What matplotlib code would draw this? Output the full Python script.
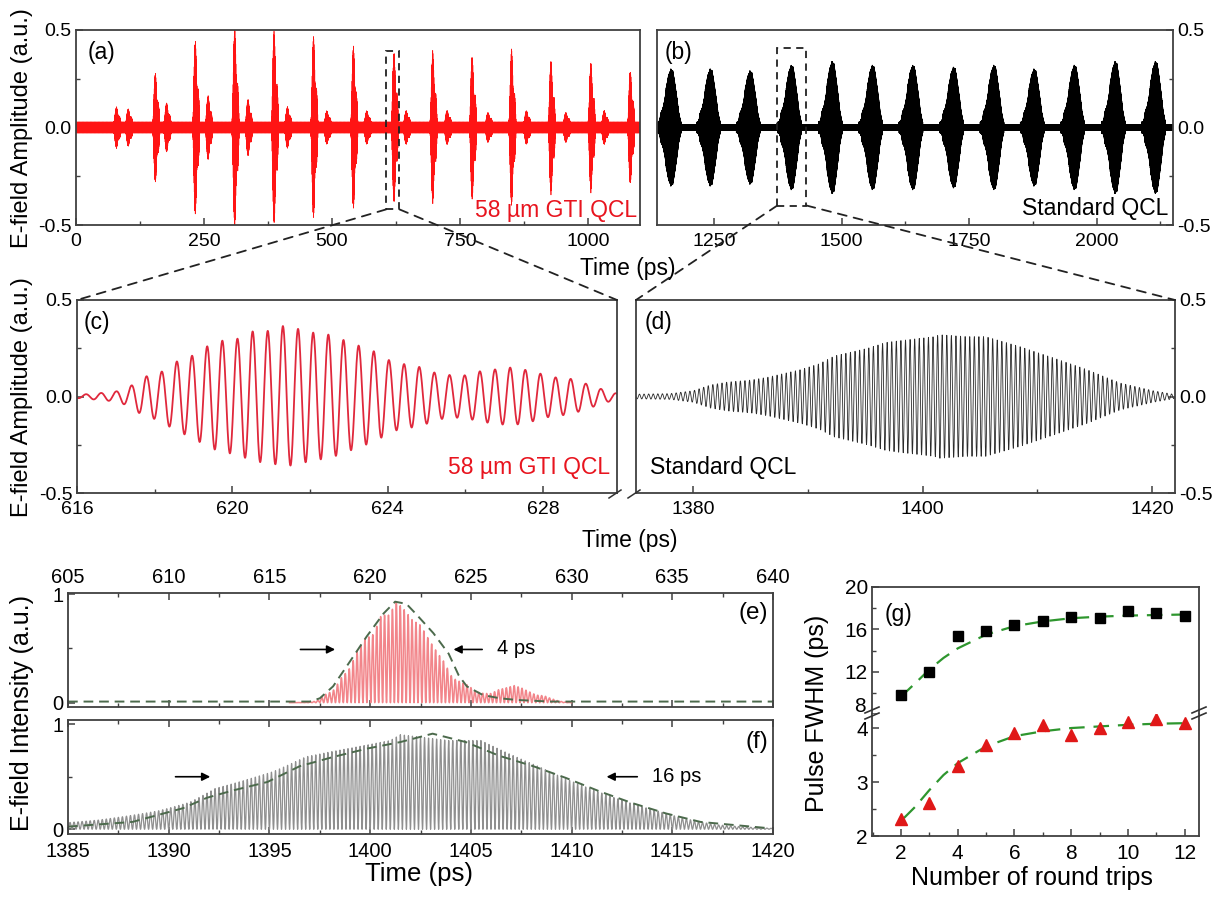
import numpy as np
import matplotlib
matplotlib.use("Agg")
import matplotlib.pyplot as plt
from matplotlib.patches import Rectangle, ConnectionPatch
from matplotlib.lines import Line2D
from matplotlib.ticker import MultipleLocator, FormatStrFormatter, FixedFormatter

plt.rcParams['font.family'] = ['Liberation Sans', 'DejaVu Sans']
plt.rcParams['axes.unicode_minus'] = False
plt.rcParams['axes.linewidth'] = 1.3
plt.rcParams['axes.edgecolor'] = '#404040'

# ---------------- values ----------------
# (a) 58 um GTI QCL pulse train: pulse centres (ps) and peak field (a.u.)
GTI_PULSE_T = [155, 233, 310, 387, 464, 542, 621.3, 697, 774, 851, 928, 1006, 1083]
GTI_PULSE_AMP = [0.26, 0.43, 0.50, 0.48, 0.45, 0.40, 0.37, 0.37, 0.35, 0.38, 0.32, 0.31, 0.27]
GTI_SAT_T = [79, 102, 177, 258, 336, 413, 490, 568, 645, 725, 805, 880, 957, 1032]
GTI_SAT_AMP = [0.08, 0.07, 0.10, 0.14, 0.12, 0.08, 0.06, 0.06, 0.06, 0.06, 0.05, 0.06, 0.05, 0.06]
GTI_BASE = 0.028
GTI_BOX_T = [606, 632]
GTI_BOX_Y = [-0.42, 0.39]

# (b) standard QCL pulse train
STD_PULSE_T = [1166, 1243, 1321, 1402, 1482, 1561, 1640, 1720, 1799, 1878, 1957, 2037, 2116]
STD_PULSE_AMP = [0.30, 0.30, 0.29, 0.32, 0.34, 0.32, 0.32, 0.31, 0.32, 0.30, 0.32, 0.34, 0.34]
STD_BASE = 0.017
STD_BOX_T = [1374, 1431]
STD_BOX_Y = [-0.40, 0.41]

# (c) single GTI pulse: field envelope (peak amplitude of each cycle)
GTI_ENV_T = [616.0, 616.6, 617.0, 617.35, 617.7, 618.15, 618.55, 618.95, 619.35, 619.75,
             620.15, 620.55, 620.95, 621.3, 621.7, 622.1, 622.5, 622.9, 623.3, 623.7,
             624.1, 624.5, 624.9, 625.25, 625.65, 626.0, 626.35, 626.75, 627.15, 627.5,
             627.9, 628.25, 628.65, 629.05, 629.4, 629.7, 630.0]
GTI_ENV_A = [0.008, 0.018, 0.026, 0.05, 0.10, 0.125, 0.18, 0.21, 0.26, 0.29,
             0.30, 0.34, 0.34, 0.365, 0.35, 0.33, 0.32, 0.29, 0.26, 0.23,
             0.18, 0.165, 0.15, 0.12, 0.11, 0.11, 0.13, 0.14, 0.15, 0.14,
             0.12, 0.10, 0.095, 0.07, 0.045, 0.026, 0.01]
GTI_PEAK_T = 621.3
GTI_PERIOD = 0.39

# (d) single standard QCL pulse: field envelope
STD_ENV_T = [1375, 1378, 1380, 1381.5, 1383, 1385, 1386.5, 1389.4, 1391, 1392.3, 1395.2,
             1396.8, 1398.1, 1401, 1401.5, 1403.9, 1405.5, 1408.4, 1411.4, 1414.3, 1417.2,
             1420.1, 1422]
STD_ENV_A = [0.012, 0.015, 0.03, 0.06, 0.075, 0.085, 0.10, 0.14, 0.17, 0.21, 0.25,
             0.28, 0.29, 0.31, 0.32, 0.31, 0.31, 0.26, 0.20, 0.14, 0.07,
             0.03, 0.01]
STD_PEAK_T = 1402.5
STD_PERIOD = 0.40

# (e), (f) intensity envelopes (dashed)
E_ENV_T = [605.0, 617.0, 617.5, 618.16, 619.0, 619.83, 620.66, 621.24, 621.8, 622.31,
           623.14, 623.9, 624.4, 624.8, 625.6, 626.45, 627.28, 628.93, 640.0]
E_ENV_I = [0.01, 0.01, 0.04, 0.15, 0.38, 0.61, 0.82, 0.93, 0.91, 0.81,
           0.64, 0.45, 0.25, 0.15, 0.07, 0.04, 0.025, 0.01, 0.01]
F_ENV_T = [1385.0, 1388.2, 1390.7, 1391.9, 1393.2, 1394.9, 1396.5, 1398.2, 1399.9, 1401.5,
           1403.1, 1404.75, 1406.4, 1408.1, 1409.7, 1411.4, 1413.0, 1414.7, 1416.4, 1418.1, 1419.8]
F_ENV_I = [0.025, 0.07, 0.20, 0.30, 0.37, 0.45, 0.60, 0.69, 0.77, 0.83,
           0.91, 0.83, 0.70, 0.60, 0.49, 0.36, 0.25, 0.15, 0.07, 0.04, 0.01]
E_PEAK = 0.93
F_PEAK = 0.90

# (g) pulse FWHM vs round trips
TRIPS = [2, 3, 4, 5, 6, 7, 8, 9, 10, 11, 12]
FWHM_STD = [9.8, 12.0, 15.4, 15.86, 16.43, 16.75, 17.16, 17.06, 17.76, 17.54, 17.28]
FWHM_GTI = [2.31, 2.62, 3.29, 3.68, 3.91, 4.05, 3.88, 4.0, 4.11, 4.17, 4.09]
FIT_STD_X = [2, 2.5, 3, 3.5, 4, 5, 6, 7, 8, 9, 10, 11, 12]
FIT_STD_Y = [9.64, 10.9, 12.2, 13.3, 14.2, 15.5, 16.3, 16.75, 17.05, 17.2, 17.3, 17.35, 17.4]
FIT_GTI_X = [2.1, 2.5, 3, 3.5, 4, 5, 6, 7, 8, 9, 10, 11, 12]
FIT_GTI_Y = [2.33, 2.54, 2.85, 3.13, 3.35, 3.66, 3.85, 3.94, 4.0, 4.03, 4.06, 4.08, 4.09]

# ---------------- figure ----------------
W, H = 1222, 898
fig = plt.figure(figsize=(W / 100, H / 100), dpi=100)


def box(l, t, r, b):
    return fig.add_axes([l / W, 1 - b / H, (r - l) / W, (b - t) / H])


def ftext(x, y, s, **kw):
    fig.text(x / W, 1 - y / H, s, **kw)


def fline(xs, ys, **kw):
    fig.add_artist(Line2D([x / W for x in xs], [1 - y / H for y in ys], **kw))


def style(ax, fs=14):
    ax.tick_params(which='both', direction='in', labelsize=fs, color='#404040')
    ax.tick_params(which='major', length=5, width=1.1)
    ax.tick_params(which='minor', length=3, width=1.0)


def train(t, pulse_t, pulse_amp, env_t, env_a, peak_t, base):
    env = np.full_like(t, base)
    ref = max(env_a)
    for tk, ak in zip(pulse_t, pulse_amp):
        env += ak / ref * np.interp(t - tk + peak_t, env_t, env_a, left=0, right=0)
    return env


RED = '#ff1414'
TXT_FS = 16.5

# (a)
ax_a = box(76, 30, 640, 225)
ta = np.arange(0, 1102, 0.04)
env = train(ta, GTI_PULSE_T, GTI_PULSE_AMP, GTI_ENV_T, GTI_ENV_A, GTI_PEAK_T, GTI_BASE)
env += train(ta, GTI_SAT_T, GTI_SAT_AMP, GTI_ENV_T, GTI_ENV_A, GTI_PEAK_T, 0.0)
ax_a.plot(ta, env * np.cos(2 * np.pi * (ta - GTI_PEAK_T) / GTI_PERIOD), color=RED, lw=0.5)
ax_a.set_xlim(0, 1102)
ax_a.set_ylim(-0.5, 0.5)
ax_a.set_xticks([0, 250, 500, 750, 1000])
ax_a.xaxis.set_minor_locator(MultipleLocator(125))
ax_a.set_yticks([-0.5, 0.0, 0.5])
ax_a.yaxis.set_minor_locator(MultipleLocator(0.25))
ax_a.yaxis.set_major_formatter(FormatStrFormatter('%.1f'))
style(ax_a)
ax_a.tick_params(axis='x', pad=6)
ax_a.tick_params(axis='y', pad=3)
ax_a.add_patch(Rectangle((GTI_BOX_T[0], GTI_BOX_Y[0]), GTI_BOX_T[1] - GTI_BOX_T[0],
                         GTI_BOX_Y[1] - GTI_BOX_Y[0], fill=False, ls=(0, (4, 3)),
                         lw=1.3, ec='#222222', zorder=5))
ftext(88, 53, '(a)', fontsize=TXT_FS, ha='left', va='center')
ftext(637, 210, '58 µm GTI QCL', fontsize=TXT_FS, ha='right', va='center', color='#e8141e')

# (b)
ax_b = box(657, 30, 1173, 225)
tb = np.arange(1138, 2150, 0.04)
env = train(tb, STD_PULSE_T, STD_PULSE_AMP, STD_ENV_T, STD_ENV_A, STD_PEAK_T, STD_BASE)
ax_b.plot(tb, env * np.cos(2 * np.pi * (tb - STD_PEAK_T) / STD_PERIOD), color='black', lw=0.5)
ax_b.set_xlim(1138, 2150)
ax_b.set_ylim(-0.5, 0.5)
ax_b.set_xticks([1250, 1500, 1750, 2000])
ax_b.xaxis.set_minor_locator(MultipleLocator(125))
ax_b.set_yticks([-0.5, 0.0, 0.5])
ax_b.yaxis.set_minor_locator(MultipleLocator(0.25))
ax_b.yaxis.set_major_formatter(FormatStrFormatter('%.1f'))
ax_b.yaxis.tick_right()
style(ax_b)
ax_b.tick_params(axis='x', pad=6)
ax_b.tick_params(axis='y', pad=3)
ax_b.add_patch(Rectangle((STD_BOX_T[0], STD_BOX_Y[0]), STD_BOX_T[1] - STD_BOX_T[0],
                         STD_BOX_Y[1] - STD_BOX_Y[0], fill=False, ls=(0, (4, 3)),
                         lw=1.3, ec='#222222', zorder=5))
ftext(665, 53, '(b)', fontsize=TXT_FS, ha='left', va='center')
ftext(1168, 208, 'Standard QCL', fontsize=TXT_FS, ha='right', va='center')

ftext(22, 128, 'E-field Amplitude (a.u.)', fontsize=17, rotation=90, ha='center', va='center')
ftext(628, 268, 'Time (ps)', fontsize=TXT_FS, ha='center', va='center')

# (c)
ax_c = box(77, 300, 617, 493)
tc = np.arange(616, 630.0, 0.004)
ec = np.interp(tc, GTI_ENV_T, GTI_ENV_A) * np.cos(2 * np.pi * (tc - GTI_PEAK_T) / GTI_PERIOD)
ax_c.plot(tc, ec, color='#e0283c', lw=1.3)
ax_c.set_xlim(616, 629.9)
ax_c.set_ylim(-0.5, 0.5)
ax_c.set_xticks([616, 620, 624, 628])
ax_c.xaxis.set_minor_locator(MultipleLocator(2))
ax_c.set_yticks([-0.5, 0.0, 0.5])
ax_c.yaxis.set_minor_locator(MultipleLocator(0.25))
ax_c.yaxis.set_major_formatter(FormatStrFormatter('%.1f'))
style(ax_c)
ax_c.tick_params(axis='x', pad=6)
ax_c.tick_params(axis='y', pad=3)
ftext(84, 323, '(c)', fontsize=TXT_FS, ha='left', va='center')
ftext(610, 468, '58 µm GTI QCL', fontsize=TXT_FS, ha='right', va='center', color='#e8141e')

# (d)
ax_d = box(636, 300, 1175, 493)
td = np.arange(1375, 1422, 0.004)
ed = np.interp(td, STD_ENV_T, STD_ENV_A) * np.cos(2 * np.pi * (td - STD_PEAK_T) / STD_PERIOD)
ax_d.plot(td, ed, color='#2a2a2a', lw=0.6)
ax_d.set_xlim(1375, 1422)
ax_d.set_ylim(-0.5, 0.5)
ax_d.set_xticks([1380, 1400, 1420])
ax_d.xaxis.set_minor_locator(MultipleLocator(10))
ax_d.set_yticks([-0.5, 0.0, 0.5])
ax_d.yaxis.set_minor_locator(MultipleLocator(0.25))
ax_d.yaxis.set_major_formatter(FormatStrFormatter('%.1f'))
ax_d.yaxis.tick_right()
style(ax_d)
ax_d.tick_params(axis='x', pad=6)
ax_d.tick_params(axis='y', pad=3)
ftext(645, 323, '(d)', fontsize=TXT_FS, ha='left', va='center')
ftext(650, 468, 'Standard QCL', fontsize=TXT_FS, ha='left', va='center')

ftext(22, 397, 'E-field Amplitude (a.u.)', fontsize=17, rotation=90, ha='center', va='center')
ftext(630, 540, 'Time (ps)', fontsize=TXT_FS, ha='center', va='center')

# axis-break slashes between (c) and (d)
for x0 in (609, 628):
    fline([x0, x0 + 12], [498, 490], color='#333333', lw=1.1)

# zoom connectors
dash = dict(ls=(0, (5, 4)), lw=1.3, color='#222222')
for xa, xb in ((GTI_BOX_T[0], 0), (GTI_BOX_T[1], 1)):
    fig.add_artist(ConnectionPatch(xyA=(xa, GTI_BOX_Y[0]), coordsA=ax_a.transData,
                                   xyB=(xb, 1), coordsB=ax_c.transAxes, **dash))
for xa, xb in ((STD_BOX_T[0], 0), (STD_BOX_T[1], 1)):
    fig.add_artist(ConnectionPatch(xyA=(xa, STD_BOX_Y[0]), coordsA=ax_b.transData,
                                   xyB=(xb, 1), coordsB=ax_d.transAxes, **dash))

# (e)
ENV_COLOR = '#4c6a4c'
ax_e = box(68, 593, 773, 707)
ie = E_PEAK * (ec / max(GTI_ENV_A)) ** 2
ax_e.plot(tc, ie, color='#f2858a', lw=1.1)
ax_e.plot(E_ENV_T, E_ENV_I, color=ENV_COLOR, lw=1.4, ls=(0, (5, 3)))
ax_e.set_xlim(605, 640)
ax_e.set_ylim(-0.04, 1.01)
ax_e.set_xticks([605, 610, 615, 620, 625, 630, 635, 640])
ax_e.xaxis.set_minor_locator(MultipleLocator(2.5))
ax_e.set_yticks([0, 1])
ax_e.yaxis.set_minor_locator(MultipleLocator(0.5))
style(ax_e, 14.5)
ax_e.tick_params(axis='x', which='both', top=True, bottom=True, labeltop=True, labelbottom=False, pad=4)
ax_e.tick_params(axis='y', pad=3)
ax_e.annotate('', xy=(618.4, 0.49), xytext=(616.4, 0.49),
              arrowprops=dict(arrowstyle='-|>', color='black', lw=1.2, mutation_scale=12))
ax_e.annotate('', xy=(624.0, 0.49), xytext=(625.7, 0.49),
              arrowprops=dict(arrowstyle='-|>', color='black', lw=1.2, mutation_scale=12))
ax_e.text(626.3, 0.5, '4 ps', fontsize=14.5, ha='left', va='center')
ftext(768, 613, '(e)', fontsize=17.5, ha='right', va='center')

# (f)
ax_f = box(68, 720, 773, 834)
i_f = F_PEAK * (ed / max(STD_ENV_A)) ** 2
ax_f.plot(td, i_f, color='#8f8f8f', lw=0.9)
ax_f.plot(F_ENV_T, F_ENV_I, color=ENV_COLOR, lw=1.4, ls=(0, (5, 3)))
ax_f.set_xlim(1385, 1420)
ax_f.set_ylim(-0.045, 1.04)
ax_f.set_xticks([1385, 1390, 1395, 1400, 1405, 1410, 1415, 1420])
ax_f.xaxis.set_minor_locator(MultipleLocator(2.5))
ax_f.set_yticks([0, 1])
ax_f.yaxis.set_minor_locator(MultipleLocator(0.5))
style(ax_f, 14.5)
ax_f.tick_params(axis='x', which='both', top=True, bottom=True, pad=6)
ax_f.tick_params(axis='y', pad=3)
ax_f.annotate('', xy=(1392.2, 0.5), xytext=(1390.2, 0.5),
              arrowprops=dict(arrowstyle='-|>', color='black', lw=1.2, mutation_scale=12))
ax_f.annotate('', xy=(1411.6, 0.5), xytext=(1413.4, 0.5),
              arrowprops=dict(arrowstyle='-|>', color='black', lw=1.2, mutation_scale=12))
ax_f.text(1414.0, 0.5, '16 ps', fontsize=14.5, ha='left', va='center')
ftext(768, 742, '(f)', fontsize=17.5, ha='right', va='center')

ftext(22, 713, 'E-field Intensity (a.u.)', fontsize=18, rotation=90, ha='center', va='center')
ftext(419, 874, 'Time (ps)', fontsize=18.5, ha='center', va='center')

# (g) broken y axis
ax_gu = box(872, 587, 1199, 714)
ax_gl = box(872, 714, 1199, 836)
for ax in (ax_gu, ax_gl):
    ax.set_xlim(0.98, 12.5)
    style(ax, 15)
ax_gu.plot(FIT_STD_X, FIT_STD_Y, color='#2e962e', lw=1.6, ls=(0, (7, 4)), zorder=2)
ax_gu.plot(TRIPS, FWHM_STD, 's', color='black', ms=7, zorder=3)
ax_gl.plot(FIT_GTI_X, FIT_GTI_Y, color='#2e962e', lw=1.6, ls=(0, (7, 4)), zorder=2)
ax_gl.plot(TRIPS, FWHM_GTI, '^', color='#e01818', ms=8.5, zorder=3)
ax_gu.set_ylim(8, 20)
ax_gu.set_yticks([8, 12, 16, 20])
ax_gu.yaxis.set_major_formatter(FixedFormatter(['', '12', '16', '20']))
ax_gu.yaxis.set_minor_locator(MultipleLocator(2))
ax_gu.spines['bottom'].set_visible(False)
ax_gu.tick_params(axis='x', which='both', bottom=False, labelbottom=False)
ax_gl.set_ylim(2, 4.26)
ax_gl.set_yticks([2, 3, 4])
ax_gl.yaxis.set_minor_locator(MultipleLocator(0.5))
ax_gl.spines['top'].set_visible(False)
ax_gl.set_xticks([2, 4, 6, 8, 10, 12])
ax_gl.xaxis.set_minor_locator(MultipleLocator(1))
ax_gl.tick_params(axis='x', pad=6)
ax_gu.tick_params(axis='y', pad=3)
ax_gl.tick_params(axis='y', pad=3)
# the "8" of the upper scale sits just above the break
ftext(866, 706, '8', fontsize=15, ha='right', va='center')
for xc in (872, 1199):
    fline([xc - 7, xc + 7], [713, 707], color='#333333', lw=1.2)
    fline([xc - 7, xc + 7], [719, 713], color='#333333', lw=1.2)
ftext(885, 615, '(g)', fontsize=TXT_FS, ha='left', va='center')
ftext(817, 713, 'Pulse FWHM (ps)', fontsize=18, rotation=90, ha='center', va='center')
ftext(1032, 878, 'Number of round trips', fontsize=18, ha='center', va='center')

fig.savefig('out.png', dpi=100)
